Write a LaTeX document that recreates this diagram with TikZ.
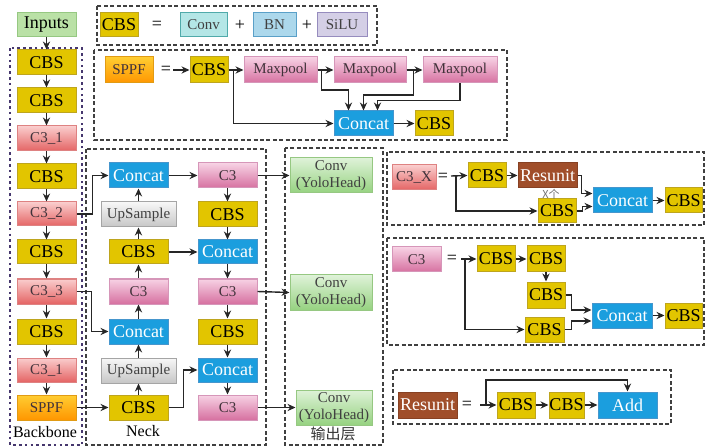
\documentclass[tikz,border=0pt]{standalone}
\usepackage{fontspec}
\setmainfont{Liberation Serif}
\newfontfamily\cjkf{Noto Sans CJK SC}
\usetikzlibrary{arrows.meta,calc}
\definecolor{cbsY}{RGB}{226,197,0}
\definecolor{cbsB}{RGB}{190,165,30}
\definecolor{catB}{RGB}{27,158,222}
\definecolor{catD}{RGB}{70,150,205}
\definecolor{pkT}{RGB}{247,210,228}
\definecolor{pkB}{RGB}{214,112,160}
\definecolor{pkD}{RGB}{214,150,185}
\definecolor{rdT}{RGB}{250,205,205}
\definecolor{rdB}{RGB}{228,100,100}
\definecolor{rdD}{RGB}{222,130,130}
\definecolor{orT}{RGB}{255,205,50}
\definecolor{orB}{RGB}{255,150,0}
\definecolor{orD}{RGB}{225,155,20}
\definecolor{gyT}{RGB}{247,247,247}
\definecolor{gyB}{RGB}{198,198,198}
\definecolor{gyD}{RGB}{165,165,165}
\definecolor{brn}{RGB}{160,78,42}
\definecolor{brnD}{RGB}{135,65,35}
\definecolor{gnT}{RGB}{222,242,216}
\definecolor{gnB}{RGB}{150,210,128}
\definecolor{gnD}{RGB}{150,200,130}
\definecolor{inpF}{RGB}{186,225,166}
\definecolor{cvF}{RGB}{180,230,230}
\definecolor{cvD}{RGB}{80,170,170}
\definecolor{bnF}{RGB}{172,216,236}
\definecolor{bnD}{RGB}{90,160,200}
\definecolor{slF}{RGB}{212,207,230}
\definecolor{slD}{RGB}{150,140,190}
\definecolor{bbP}{RGB}{70,55,110}
\definecolor{txtD}{RGB}{65,50,58}
\newcommand\mybox[7]{\node[#6, minimum width={(#4-#2)*0.5pt}, minimum height={(#5-#3)*0.5pt}] (#1) at ({(#2+#4)/2},{(#3+#5)/2}) {#7};}
\tikzset{
  base/.style={inner sep=0pt, line width=0.5pt},
  big/.style={font=\fontsize{9}{10}\selectfont},
  sml/.style={font=\fontsize{7.5}{8.5}\selectfont},
  cbs/.style={base, big, fill=cbsY, draw=cbsB},
  cat/.style={base, big, fill=catB, draw=catD, text=white},
  cthree/.style={base, sml, top color=pkT, bottom color=pkB, draw=pkD, text=txtD},
  cred/.style={base, sml, top color=rdT, bottom color=rdB, draw=rdD, text=txtD},
  sppfbox/.style={base, sml, top color=orT, bottom color=orB, draw=orD, text=txtD},
  ups/.style={base, sml, top color=gyT, bottom color=gyB, draw=gyD, text=black!75},
  resu/.style={base, big, fill=brn, draw=brnD, text=white},
  head/.style={base, sml, top color=gnT, bottom color=gnB, draw=gnD, text=black!75, align=center},
  inp/.style={base, big, fill=inpF, draw=gnD},
  cvbox/.style={base, sml, fill=cvF, draw=cvD, text=black!75},
  bnbox/.style={base, sml, fill=bnF, draw=bnD, text=black!75},
  slbox/.style={base, sml, fill=slF, draw=slD, text=black!75},
  lbl/.style={inner sep=0pt, font=\fontsize{8}{9}\selectfont},
  eqs/.style={inner sep=0pt, font=\fontsize{9}{10}\selectfont},
  arr/.style={-{Stealth[length=4pt,width=3.6pt]}, line width=0.7pt, black!85},
  frm/.style={draw=black!75, line width=0.7pt, dash pattern=on 2pt off 1.2pt},
  bbfrm/.style={draw=bbP, line width=0.8pt, dash pattern=on 1.3pt off 1.6pt}
}
\begin{document}
\begin{tikzpicture}[x=0.5pt,y=-0.5pt]
\useasboundingbox (0,0) rectangle (705,448);
% frames
\draw[bbfrm] (10,48) rectangle (82,445);
\draw[frm] (86,149) rectangle (266,445);
\draw[frm] (285,148) rectangle (383,445);
\draw[frm] (97,6) rectangle (377,45);
\draw[frm] (94,50) rectangle (507,140);
\draw[frm] (387,152) rectangle (704,225);
\draw[frm] (387,238) rectangle (704,345);
\draw[frm] (393,370) rectangle (671,424);

% CBS definition
\mybox{tcbs}{100}{13}{138}{37}{cbs}{CBS}
\node[eqs] (teq) at (157,25) {=};
\mybox{tconv}{180}{13}{227}{37}{cvbox}{Conv}
\node[eqs] (tp1) at (240,25) {+};
\mybox{tbn}{253}{13}{296}{37}{bnbox}{BN}
\node[eqs] (tp2) at (307,25) {+};
\mybox{tsilu}{317}{13}{367}{37}{slbox}{SiLU}

% SPPF definition
\mybox{sp}{105}{57}{153}{83}{sppfbox}{SPPF}
\node[eqs] (speq) at (166,70) {=};
\coordinate (spS) at (173,70);
\mybox{spc}{190}{57}{228}{83}{cbs}{CBS}
\mybox{mp1}{244}{57}{317}{83}{cthree}{Maxpool}
\mybox{mp2}{334}{57}{406}{83}{cthree}{Maxpool}
\mybox{mp3}{423}{57}{497}{83}{cthree}{Maxpool}
\mybox{spcat}{334}{111}{393}{136}{cat}{Concat}
\mybox{spcbs}{415}{111}{453}{136}{cbs}{CBS}
\draw[arr] (spS) -- (spc.west);
\draw[arr] (spc.east) -- (mp1.west);
\draw[arr] (spc.east) -- ++(5,0) |- (spcat.west);
\draw[arr] (mp1.east) -- (mp2.west);
\draw[arr] (mp1.east) -- ++(4,0) -- ++(0,20) -| ($(spcat.north)+(-15,0)$);
\draw[arr] (mp2.east) -- (mp3.west);
\draw[arr] (mp2.east) -- ++(7,0) -- ++(0,25) -| (spcat.north);
\draw[arr] (mp3.south) -- ++(0,17) -| ($(spcat.north)+(14,0)$);
\draw[arr] (spcat.east) -- (spcbs.west);

% Backbone
\mybox{in}{17}{13}{76}{37}{inp}{Inputs}
\mybox{b1}{17}{50}{76}{75}{cbs}{CBS}
\mybox{b2}{17}{88}{76}{113}{cbs}{CBS}
\mybox{b3}{17}{126}{76}{151}{cred}{C3\_1}
\mybox{b4}{17}{164}{76}{189}{cbs}{CBS}
\mybox{b5}{17}{202}{76}{226}{cred}{C3\_2}
\mybox{b6}{17}{240}{76}{264}{cbs}{CBS}
\mybox{b7}{17}{279}{76}{304}{cred}{C3\_3}
\mybox{b8}{17}{319}{76}{344}{cbs}{CBS}
\mybox{b9}{17}{358}{76}{382}{cred}{C3\_1}
\mybox{b10}{17}{395}{76}{420}{sppfbox}{SPPF}
\foreach \a/\b in {in/b1,b1/b2,b2/b3,b3/b4,b4/b5,b5/b6,b6/b7,b7/b8,b8/b9,b9/b10}
  \draw[arr] (\a.south) -- (\b.north);
\node[lbl] (bbl) at (45,432) {Backbone};

% Neck
\mybox{nl1}{109}{163}{168}{188}{cat}{Concat}
\mybox{nl2}{101}{202}{176}{227}{ups}{UpSample}
\mybox{nl3}{109}{240}{168}{264}{cbs}{CBS}
\mybox{nl4}{109}{279}{168}{304}{cthree}{C3}
\mybox{nl5}{109}{319}{168}{344}{cat}{Concat}
\mybox{nl6}{101}{358}{176}{383}{ups}{UpSample}
\mybox{nl7}{109}{395}{168}{420}{cbs}{CBS}
\mybox{nr1}{198}{163}{257}{188}{cthree}{C3}
\mybox{nr2}{198}{202}{257}{227}{cbs}{CBS}
\mybox{nr3}{198}{240}{257}{264}{cat}{Concat}
\mybox{nr4}{198}{279}{257}{304}{cthree}{C3}
\mybox{nr5}{198}{319}{257}{344}{cbs}{CBS}
\mybox{nr6}{198}{358}{257}{382}{cat}{Concat}
\mybox{nr7}{198}{395}{257}{420}{cthree}{C3}
\foreach \a/\b in {nl7/nl6,nl6/nl5,nl5/nl4,nl4/nl3,nl3/nl2,nl2/nl1}
  \draw[arr] (\a.north) -- (\b.south);
\foreach \a/\b in {nr1/nr2,nr2/nr3,nr3/nr4,nr4/nr5,nr5/nr6,nr6/nr7}
  \draw[arr] (\a.south) -- (\b.north);
\draw[arr] (b5.east) -- ++(16,0) |- (nl1.west);
\draw[arr] (b7.east) -- ++(15,0) |- (nl5.west);
\draw[arr] (b10.east) -- (nl7.west);
\draw[arr] (nl1.east) -- (nr1.west);
\draw[arr] (nl3.east) -- (nr3.west);
\draw[arr] (nl7.east) -- ++(15,0) |- (nr6.west);
\node[lbl] (nkl) at (143,431) {Neck};

% Heads
\mybox{h1}{290}{158}{372}{193}{head}{Conv\\(YoloHead)}
\mybox{h2}{290}{275}{372}{310}{head}{Conv\\(YoloHead)}
\mybox{h3}{296}{390}{372}{425}{head}{Conv\\(YoloHead)}
\draw[arr] (nr1.east) -- (h1.west);
\draw[arr] (nr4.east) -- (h2.west);
\draw[arr] (nr7.east) -- (h3.west);
\node[lbl, font=\cjkf\fontsize{7.5}{8}\selectfont, text=black!80] (outl) at (333,434) {输出层};

% C3_X definition
\mybox{c3x}{392}{165}{436}{190}{cred}{C3\_X}
\node[eqs] (xeq) at (443,177) {=};
\coordinate (xs) at (451,176);
\mybox{x1}{468}{163}{506}{188}{cbs}{CBS}
\mybox{xr}{518}{163}{577}{188}{resu}{Resunit}
\mybox{x2}{538}{199}{576}{223}{cbs}{CBS}
\mybox{xcat}{593}{188}{652}{213}{cat}{Concat}
\mybox{xcbs}{665}{188}{702}{213}{cbs}{CBS}
\node[inner sep=0pt, font=\cjkf\fontsize{5.5}{6}\selectfont, text=black!55] (xn) at (551,194) {X个};
\draw[arr] (xs) -- (x1.west);
\draw[arr] ($(xs)+(5,0)$) |- (x2.west);
\draw[arr] (x1.east) -- (xr.west);
\draw[arr] (xr.east) -- ++(4,0) |- ($(xcat.west)+(0,-7)$);
\draw[arr] (x2.east) -- ++(6,0) |- ($(xcat.west)+(0,6)$);
\draw[arr] (xcat.east) -- (xcbs.west);

% C3 definition
\mybox{c3d}{392}{247}{441}{272}{cthree}{C3}
\node[eqs] (yeq) at (452,259) {=};
\coordinate (ys) at (461,259);
\mybox{y1}{477}{246}{515}{272}{cbs}{CBS}
\mybox{y2}{527}{246}{565}{272}{cbs}{CBS}
\mybox{y3}{527}{282}{565}{308}{cbs}{CBS}
\mybox{y4}{525}{317}{564}{342}{cbs}{CBS}
\mybox{ycat}{592}{303}{652}{328}{cat}{Concat}
\mybox{ycbs}{665}{303}{702}{328}{cbs}{CBS}
\draw[arr] (ys) -- (y1.west);
\draw[arr] ($(ys)+(4,0)$) |- (y4.west);
\draw[arr] (y1.east) -- (y2.west);
\draw[arr] (y2.south) -- (y3.north);
\draw[arr] (y3.east) -- ++(6,0) |- ($(ycat.west)+(0,-5.5)$);
\draw[arr] (y4.east) -- ++(7,0) |- ($(ycat.west)+(0,5.5)$);
\draw[arr] (ycat.east) -- (ycbs.west);

% Resunit definition
\mybox{rr}{398}{392}{457}{418}{resu}{Resunit}
\node[eqs] (req) at (467,405) {=};
\coordinate (rs) at (480,405);
\mybox{r1}{497}{392}{535}{418}{cbs}{CBS}
\mybox{r2}{549}{392}{584}{418}{cbs}{CBS}
\mybox{radd}{598}{392}{657}{418}{cat}{Add}
\draw[arr] (rs) -- (r1.west);
\draw[arr] ($(rs)+(6,0)$) -- ++(0,-25) -| (radd.north);
\draw[arr] (r1.east) -- (r2.west);
\draw[arr] (r2.east) -- (radd.west);
\end{tikzpicture}
\end{document}
